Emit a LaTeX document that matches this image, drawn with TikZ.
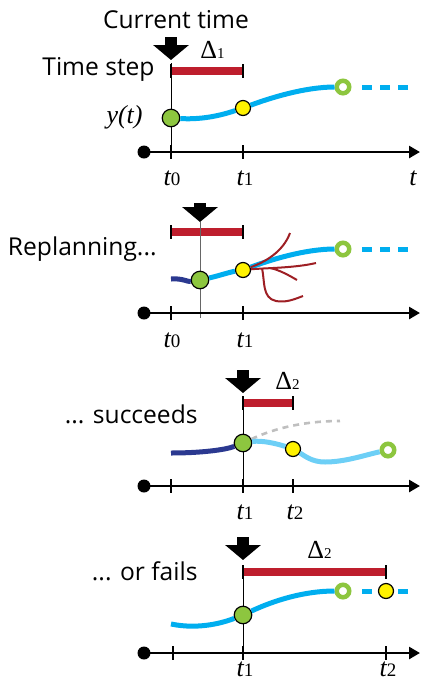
\documentclass[tikz,border=0pt]{standalone}
\usepackage{fontspec}
\setmainfont{Open Sans}
\newfontfamily\symfont{Liberation Serif}
\usetikzlibrary{arrows.meta}

\definecolor{barred}{RGB}{190,30,45}
\definecolor{trajblue}{RGB}{0,174,239}
\definecolor{oldblue}{RGB}{43,57,144}
\definecolor{newblue}{RGB}{109,207,246}
\definecolor{dotgreen}{RGB}{141,198,63}
\definecolor{dotyellow}{RGB}{255,242,0}
\definecolor{branchred}{RGB}{158,31,36}

\newcommand{\tlab}[1]{{\symfont\itshape t}{\symfont\fontsize{9.5}{9.5}\selectfont #1}}
\newcommand{\dlab}[1]{{\symfont Δ}{\symfont\fontsize{7.5}{7.5}\selectfont #1}}

\begin{document}
\begin{tikzpicture}[x=0.5pt, y=-0.5pt,
  lbl/.style={font=\fontsize{12.3}{14}\selectfont, inner sep=0},
  sym/.style={font=\symfont\fontsize{13}{15}\selectfont, inner sep=0},
  axis/.style={line width=1.3pt, -{Triangle[length=5.5pt,width=6pt]}},
  tickmark/.style={line width=1.2pt},
  nowline/.style={line width=0.5pt},
  bar/.style={line width=4pt, barred},
  nowarrow/.style={line width=6pt, -{Triangle[length=7.5pt,width=17.5pt]}},
  traj/.style={line width=2.5pt, trajblue},
  tail/.style={traj, dash pattern=on 5pt off 4pt},
  origin/.style={circle, fill, minimum size=6.5pt, inner sep=0},
  start/.style={circle, draw, line width=0.6pt, fill=dotgreen, minimum size=8.75pt, inner sep=0},
  mid/.style={circle, draw, line width=0.6pt, fill=dotyellow, minimum size=7.5pt, inner sep=0},
  goal/.style={circle, draw=dotgreen, line width=2.25pt, fill=white, minimum size=6.25pt, inner sep=0},
  branch/.style={line width=1pt, branchred}
]
  \useasboundingbox (0,0) rectangle (421,682);

  % Panel 1: current plan
  \node[lbl, anchor=base] (cur) at (176,28) {Current time};
  \coordinate (a1) at (171,37);
  \coordinate (n1) at (171,60);
  \draw[nowarrow] (a1) -- (n1);
  \node[sym, anchor=base west] (d1) at (200,58) {\dlab{1}};
  \node[lbl, anchor=base east] (ts) at (155,75) {Time step};
  \draw[nowline] (171,63) -- (171,158);
  \draw[bar] (171,71) -- (243,71);
  \draw[tickmark] (171,64) -- (171,78);
  \draw[tickmark] (243,64) -- (243,78);
  \node[sym, anchor=base east] (yt) at (143,123) {\itshape y(t)};
  \node[start] (g1) at (171,118) {};
  \node[mid] (y1) at (243,108) {};
  \node[goal] (h1) at (343,87) {};
  \draw[traj] (g1) .. controls (205,120) and (225,114) .. (y1);
  \draw[traj] (y1) .. controls (270,98) and (305,87) .. (h1);
  \draw[tail] (362,87) -- (408,87);
  \node[origin] (o1) at (144,152) {};
  \coordinate (e1) at (420,152);
  \draw[axis] (o1.center) -- (e1);
  \draw[tickmark] (171,145) -- (171,159);
  \draw[tickmark] (243,145) -- (243,159);
  \node[sym, anchor=base] (t10) at (172,185) {\tlab{0}};
  \node[sym, anchor=base] (t11) at (245,185) {\tlab{1}};
  \node[sym, anchor=base] (t1t) at (413,185) {\itshape t};

  % Panel 2: replanning
  \coordinate (a2) at (200,203);
  \coordinate (n2) at (200,222);
  \draw[nowarrow] (a2) -- (n2);
  \draw[bar] (171,232) -- (243,232);
  \draw[tickmark] (171,225) -- (171,239);
  \draw[tickmark] (243,225) -- (243,239);
  \draw[nowline, black!60] (200,222) -- (200,318);
  \node[lbl, anchor=base east] (rp) at (157,255) {Replanning...};
  \node[start] (g2) at (200,280) {};
  \node[mid] (y2) at (243,270) {};
  \node[goal] (h2) at (343,249) {};
  \draw[traj, oldblue] (171,279) .. controls (182,278) and (188,282) .. (g2);
  \draw[traj] (g2) .. controls (218,276) and (230,272) .. (y2);
  \draw[traj] (y2) .. controls (270,260) and (305,249) .. (h2);
  \draw[tail] (362,249) -- (408,249);
  \draw[branch] (y2) .. controls (265,262) and (283,252) .. (290,233);
  \draw[branch] (y2) .. controls (265,268) and (295,268) .. (316,263);
  \draw[branch] (270,268) .. controls (280,270) and (290,276) .. (297,280);
  \draw[branch] (262,268) .. controls (265,282) and (262,298) .. (276,301)
    .. controls (286,303) and (295,299) .. (303,296);
  \node[origin] (o2) at (144,313) {};
  \coordinate (e2) at (420,313);
  \draw[axis] (o2.center) -- (e2);
  \draw[tickmark] (171,306) -- (171,320);
  \draw[tickmark] (243,306) -- (243,320);
  \node[sym, anchor=base] (t20) at (172,347) {\tlab{0}};
  \node[sym, anchor=base] (t21) at (245,347) {\tlab{1}};

  % Panel 3: replanning succeeds
  \coordinate (a3) at (243,370);
  \coordinate (n3) at (243,393);
  \draw[nowarrow] (a3) -- (n3);
  \node[sym, anchor=base west] (d3) at (275,389) {\dlab{2}};
  \draw[nowline] (243,396) -- (243,492);
  \draw[bar] (243,403) -- (293,403);
  \draw[tickmark] (243,396) -- (243,410);
  \draw[tickmark] (293,396) -- (293,410);
  \node[lbl, anchor=base east] (sc) at (198,423) {... succeeds};
  \node[start] (g3) at (243,443) {};
  \node[mid] (y3) at (293,449) {};
  \node[goal] (h3) at (388,450) {};
  \draw[traj, oldblue] (171,453) .. controls (200,453) and (225,450) .. (g3);
  \draw[line width=1.3pt, black!25, dash pattern=on 3pt off 2.5pt]
    (g3) .. controls (275,428) and (305,421) .. (340,421);
  \draw[traj, newblue] (g3) .. controls (262,440) and (278,444) .. (y3);
  \draw[traj, newblue] (y3) .. controls (305,456) and (312,462) .. (325,462)
    .. controls (345,462) and (365,455) .. (h3);
  \node[origin] (o3) at (144,486) {};
  \coordinate (e3) at (420,486);
  \draw[axis] (o3.center) -- (e3);
  \draw[tickmark] (171,479) -- (171,493);
  \draw[tickmark] (243,479) -- (243,493);
  \draw[tickmark] (293,479) -- (293,493);
  \node[sym, anchor=base] (t31) at (245,519) {\tlab{1}};
  \node[sym, anchor=base] (t32) at (295,519) {\tlab{2}};

  % Panel 4: replanning fails
  \coordinate (a4) at (243,537);
  \coordinate (n4) at (243,560);
  \draw[nowarrow] (a4) -- (n4);
  \node[sym, anchor=base west] (d4) at (307,558) {\dlab{2}};
  \draw[nowline] (243,565) -- (243,660);
  \draw[bar] (243,572) -- (386,572);
  \draw[tickmark] (243,565) -- (243,579);
  \draw[tickmark] (386,565) -- (386,579);
  \node[lbl, anchor=base east] (fl) at (198,580) {... or fails};
  \node[start] (g4) at (243,615) {};
  \node[goal] (h4) at (343,591) {};
  \draw[traj] (171,624) .. controls (200,630) and (225,622) .. (g4);
  \draw[traj] (g4) .. controls (275,600) and (305,591) .. (h4);
  \draw[tail] (362,591) -- (408,591);
  \node[mid] (y4) at (386,591) {};
  \node[origin] (o4) at (144,653) {};
  \coordinate (e4) at (420,653);
  \draw[axis] (o4.center) -- (e4);
  \draw[tickmark] (173,646) -- (173,660);
  \draw[tickmark] (243,646) -- (243,660);
  \draw[tickmark] (386,646) -- (386,660);
  \node[sym, anchor=base] (t41) at (245,676) {\tlab{1}};
  \node[sym, anchor=base] (t42) at (388,676) {\tlab{2}};
\end{tikzpicture}
\end{document}
